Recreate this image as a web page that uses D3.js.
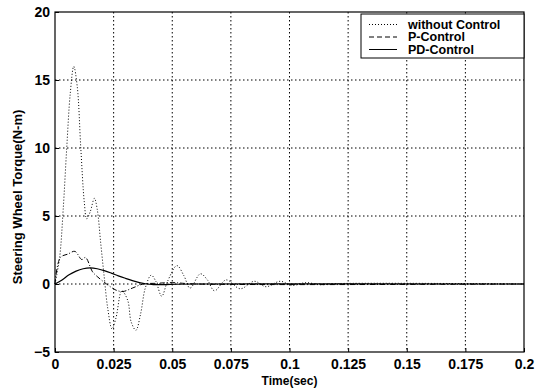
<!DOCTYPE html>
<html>
<head>
<meta charset="utf-8">
<script src="https://cdn.jsdelivr.net/npm/d3@7"></script>
<style>
  body { margin: 0; background: #fff; }
  text { font-family: "Liberation Sans", Arial, sans-serif; }
</style>
</head>
<body>
<script>
// values
const timeNoCtrl = [0, 0.002, 0.0035, 0.005, 0.0065, 0.008, 0.0095, 0.011, 0.0125, 0.0135, 0.015, 0.0168, 0.018, 0.0195, 0.021, 0.0225, 0.0243, 0.026, 0.0285, 0.031, 0.0325, 0.0345, 0.0365, 0.0385, 0.041, 0.043, 0.0455, 0.048, 0.052, 0.055, 0.0576, 0.062, 0.065, 0.068, 0.073, 0.079, 0.085, 0.09, 0.096, 0.101, 0.107, 0.113, 0.12, 0.2];
const torqueNoCtrl = [0, 2, 5.5, 10, 14, 16, 14.5, 10, 6, 4.8, 5.3, 6.3, 5.5, 3, 0.5, -1.8, -3.3, -2.5, -0.5, -1.2, -2.8, -3.4, -2.2, -0.3, 0.65, 0.2, -0.9, 0.2, 1.35, 0.6, -0.3, 0.75, 0.3, -0.5, 0.3, -0.35, 0.2, -0.2, 0.2, -0.1, 0.1, -0.05, 0.03, 0];

const timeP = [0, 0.0023, 0.0055, 0.0085, 0.0114, 0.013, 0.016, 0.018, 0.022, 0.026, 0.029, 0.033, 0.0376, 0.043, 0.05, 0.06, 0.2];
const torqueP = [0, 1.95, 2.2, 2.4, 1.8, 1.95, 0.9, 0.55, 0, -0.45, -0.55, -0.3, 0, 0.05, 0.1, 0, 0];

const timePD = [0, 0.003, 0.006, 0.009, 0.012, 0.015, 0.018, 0.021, 0.024, 0.027, 0.03, 0.033, 0.036, 0.039, 0.042, 0.046, 0.052, 0.06, 0.2];
const torquePD = [0, 0.3, 0.68, 0.95, 1.12, 1.18, 1.12, 0.98, 0.8, 0.6, 0.42, 0.25, 0.1, 0.0, -0.04, -0.05, -0.02, 0, 0];

const xTicks = [0, 0.025, 0.05, 0.075, 0.1, 0.125, 0.15, 0.175, 0.2];
const xTickLabels = ["0", "0.025", "0.05", "0.075", "0.1", "0.125", "0.15", "0.175", "0.2"];
const yTicks = [-5, 0, 5, 10, 15, 20];
const seriesNames = ["without Control", "P-Control", "PD-Control"];

const W = 540, H = 389;
const plotL = 55, plotR = 524, plotT = 12, plotB = 352;

const svg = d3.select("body").append("svg")
  .attr("width", W)
  .attr("height", H);

const x = d3.scaleLinear().domain([0, 0.2]).range([plotL, plotR]);
const y = d3.scaleLinear().domain([-5, 20]).range([plotB, plotT]);

// grid
svg.append("g")
  .selectAll("line")
  .data(xTicks.slice(1, -1))
  .enter().append("line")
  .attr("x1", d => x(d)).attr("x2", d => x(d))
  .attr("y1", plotT).attr("y2", plotB)
  .attr("stroke", "#000").attr("stroke-width", 1)
  .attr("stroke-dasharray", "1.5,2.5");

svg.append("g")
  .selectAll("line")
  .data(yTicks.slice(1, -1))
  .enter().append("line")
  .attr("y1", d => y(d)).attr("y2", d => y(d))
  .attr("x1", plotL).attr("x2", plotR)
  .attr("stroke", "#000").attr("stroke-width", 1)
  .attr("stroke-dasharray", "1.5,2.5");

// axes, ticks inward like MATLAB
const xAxis = d3.axisBottom(x)
  .tickValues(xTicks)
  .tickFormat((d, i) => xTickLabels[i])
  .tickSizeInner(-4).tickSizeOuter(0).tickPadding(7);

svg.append("g")
  .attr("transform", "translate(0," + plotB + ")")
  .call(xAxis)
  .call(g => g.select(".domain").remove())
  .selectAll("text")
  .style("font-size", "14px").style("font-weight", "bold")
  .attr("fill", "#000");

const yAxis = d3.axisLeft(y)
  .tickValues(yTicks)
  .tickSizeInner(-4).tickSizeOuter(0).tickPadding(5);

svg.append("g")
  .attr("transform", "translate(" + plotL + ",0)")
  .call(yAxis)
  .call(g => g.select(".domain").remove())
  .selectAll("text")
  .style("font-size", "14px").style("font-weight", "bold")
  .attr("fill", "#000");

// frame
svg.append("rect")
  .attr("x", plotL).attr("y", plotT)
  .attr("width", plotR - plotL).attr("height", plotB - plotT)
  .attr("fill", "none").attr("stroke", "#000").attr("stroke-width", 1.2);

// lines
const line = d3.line()
  .x(d => x(d[0]))
  .y(d => y(d[1]))
  .curve(d3.curveCatmullRom.alpha(0.5));

svg.append("path")
  .datum(d3.zip(timeNoCtrl, torqueNoCtrl))
  .attr("d", line)
  .attr("fill", "none").attr("stroke", "#000").attr("stroke-width", 1)
  .attr("stroke-dasharray", "1,2");

svg.append("path")
  .datum(d3.zip(timeP, torqueP))
  .attr("d", line)
  .attr("fill", "none").attr("stroke", "#000").attr("stroke-width", 1)
  .attr("stroke-dasharray", "5,2,1,2");

svg.append("path")
  .datum(d3.zip(timePD, torquePD))
  .attr("d", line)
  .attr("fill", "none").attr("stroke", "#000").attr("stroke-width", 1.2);

// legend
const legend = svg.append("g");
legend.append("rect")
  .attr("x", 361).attr("y", 14)
  .attr("width", 163).attr("height", 44)
  .attr("fill", "#fff").attr("stroke", "#000").attr("stroke-width", 1);

const dashes = ["1,2", "5,3", null];
seriesNames.forEach((name, i) => {
  const ly = 24.5 + i * 12.5;
  legend.append("line")
    .attr("x1", 369).attr("x2", 397)
    .attr("y1", ly).attr("y2", ly)
    .attr("stroke", "#000").attr("stroke-width", 1)
    .attr("stroke-dasharray", dashes[i]);
  legend.append("text")
    .attr("x", 408).attr("y", ly + 4)
    .style("font-size", "12.5px").style("font-weight", "bold")
    .text(name);
});

// axis labels
svg.append("text")
  .attr("x", (plotL + plotR) / 2).attr("y", 385)
  .attr("text-anchor", "middle")
  .style("font-size", "12px").style("font-weight", "bold")
  .text("Time(sec)");

svg.append("text")
  .attr("transform", "translate(22,197) rotate(-90)")
  .attr("text-anchor", "middle")
  .style("font-size", "13px").style("font-weight", "bold")
  .text("Steering Wheel Torque(N-m)");
</script>
</body>
</html>
